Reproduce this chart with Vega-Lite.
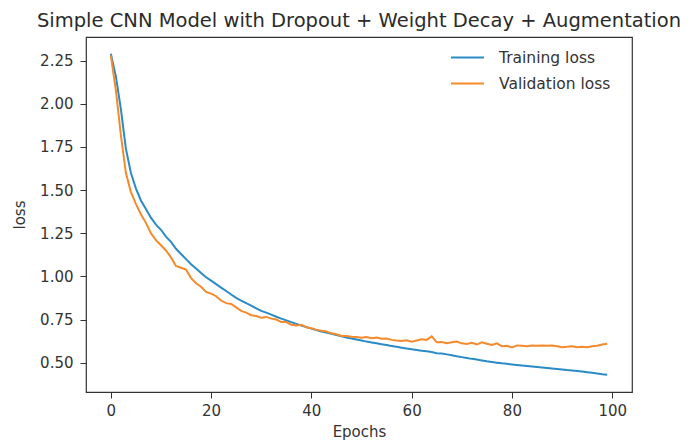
{
  "$schema": "https://vega.github.io/schema/vega-lite/v6.json",
  "autosize": "none",
  "width": 546,
  "height": 355,
  "padding": {"left": 86, "top": 37, "right": 65, "bottom": 54},
  "background": "white",
  "title": {
    "text": "Simple CNN Model with Dropout + Weight Decay + Augmentation",
    "font": "DejaVu Sans",
    "fontSize": 19.5,
    "fontWeight": "normal",
    "color": "#2b2b2b",
    "anchor": "middle",
    "offset": 6
  },
  "config": {
    "view": {"stroke": "#333333", "strokeWidth": 1.2},
    "axis": {
      "labelFont": "DejaVu Sans",
      "titleFont": "DejaVu Sans",
      "labelFontSize": 15,
      "titleFontSize": 15,
      "titleFontWeight": "normal",
      "labelColor": "#333333",
      "titleColor": "#333333",
      "tickColor": "#333333",
      "tickSize": 6,
      "domain": false,
      "grid": false
    },
    "legend": {
      "labelFont": "DejaVu Sans",
      "labelFontSize": 15.5,
      "labelColor": "#333333"
    }
  },
  "data": {
    "values": [
      {"epoch":0,"Training loss":2.29,"Validation loss":2.28},
      {"epoch":1,"Training loss":2.16,"Validation loss":2.08},
      {"epoch":2,"Training loss":1.97,"Validation loss":1.82},
      {"epoch":3,"Training loss":1.74,"Validation loss":1.60},
      {"epoch":4,"Training loss":1.60,"Validation loss":1.49},
      {"epoch":5,"Training loss":1.51,"Validation loss":1.42},
      {"epoch":6,"Training loss":1.44,"Validation loss":1.36},
      {"epoch":7,"Training loss":1.39,"Validation loss":1.31},
      {"epoch":8,"Training loss":1.34,"Validation loss":1.25},
      {"epoch":9,"Training loss":1.30,"Validation loss":1.21},
      {"epoch":10,"Training loss":1.27,"Validation loss":1.18},
      {"epoch":11,"Training loss":1.23,"Validation loss":1.15},
      {"epoch":12,"Training loss":1.20,"Validation loss":1.11},
      {"epoch":13,"Training loss":1.16,"Validation loss":1.06},
      {"epoch":14,"Training loss":1.13,"Validation loss":1.05},
      {"epoch":15,"Training loss":1.10,"Validation loss":1.04},
      {"epoch":16,"Training loss":1.07,"Validation loss":0.99},
      {"epoch":17,"Training loss":1.045,"Validation loss":0.96},
      {"epoch":18,"Training loss":1.02,"Validation loss":0.94},
      {"epoch":19,"Training loss":0.995,"Validation loss":0.91},
      {"epoch":20,"Training loss":0.975,"Validation loss":0.90},
      {"epoch":21,"Training loss":0.955,"Validation loss":0.885},
      {"epoch":22,"Training loss":0.935,"Validation loss":0.86},
      {"epoch":23,"Training loss":0.915,"Validation loss":0.845},
      {"epoch":24,"Training loss":0.895,"Validation loss":0.84},
      {"epoch":25,"Training loss":0.875,"Validation loss":0.82},
      {"epoch":26,"Training loss":0.86,"Validation loss":0.80},
      {"epoch":27,"Training loss":0.845,"Validation loss":0.79},
      {"epoch":28,"Training loss":0.83,"Validation loss":0.775},
      {"epoch":29,"Training loss":0.815,"Validation loss":0.77},
      {"epoch":30,"Training loss":0.80,"Validation loss":0.76},
      {"epoch":31,"Training loss":0.79,"Validation loss":0.765},
      {"epoch":32,"Training loss":0.778,"Validation loss":0.755},
      {"epoch":33,"Training loss":0.766,"Validation loss":0.75},
      {"epoch":34,"Training loss":0.755,"Validation loss":0.735},
      {"epoch":35,"Training loss":0.745,"Validation loss":0.735},
      {"epoch":36,"Training loss":0.735,"Validation loss":0.72},
      {"epoch":37,"Training loss":0.725,"Validation loss":0.715},
      {"epoch":38,"Training loss":0.715,"Validation loss":0.72},
      {"epoch":39,"Training loss":0.706,"Validation loss":0.705},
      {"epoch":40,"Training loss":0.697,"Validation loss":0.70},
      {"epoch":41,"Training loss":0.689,"Validation loss":0.69},
      {"epoch":42,"Training loss":0.681,"Validation loss":0.685},
      {"epoch":43,"Training loss":0.674,"Validation loss":0.68},
      {"epoch":44,"Training loss":0.667,"Validation loss":0.67},
      {"epoch":45,"Training loss":0.66,"Validation loss":0.665},
      {"epoch":46,"Training loss":0.653,"Validation loss":0.655},
      {"epoch":47,"Training loss":0.646,"Validation loss":0.655},
      {"epoch":48,"Training loss":0.64,"Validation loss":0.65},
      {"epoch":49,"Training loss":0.634,"Validation loss":0.648},
      {"epoch":50,"Training loss":0.628,"Validation loss":0.645},
      {"epoch":51,"Training loss":0.622,"Validation loss":0.648},
      {"epoch":52,"Training loss":0.617,"Validation loss":0.642},
      {"epoch":53,"Training loss":0.612,"Validation loss":0.645},
      {"epoch":54,"Training loss":0.607,"Validation loss":0.638},
      {"epoch":55,"Training loss":0.602,"Validation loss":0.64},
      {"epoch":56,"Training loss":0.597,"Validation loss":0.632},
      {"epoch":57,"Training loss":0.592,"Validation loss":0.628},
      {"epoch":58,"Training loss":0.587,"Validation loss":0.625},
      {"epoch":59,"Training loss":0.582,"Validation loss":0.63},
      {"epoch":60,"Training loss":0.578,"Validation loss":0.622},
      {"epoch":61,"Training loss":0.574,"Validation loss":0.628},
      {"epoch":62,"Training loss":0.569,"Validation loss":0.635},
      {"epoch":63,"Training loss":0.566,"Validation loss":0.632},
      {"epoch":64,"Training loss":0.562,"Validation loss":0.652},
      {"epoch":65,"Training loss":0.555,"Validation loss":0.618},
      {"epoch":66,"Training loss":0.553,"Validation loss":0.62},
      {"epoch":67,"Training loss":0.548,"Validation loss":0.612},
      {"epoch":68,"Training loss":0.543,"Validation loss":0.618},
      {"epoch":69,"Training loss":0.537,"Validation loss":0.622},
      {"epoch":70,"Training loss":0.532,"Validation loss":0.612},
      {"epoch":71,"Training loss":0.527,"Validation loss":0.608},
      {"epoch":72,"Training loss":0.522,"Validation loss":0.615},
      {"epoch":73,"Training loss":0.518,"Validation loss":0.605},
      {"epoch":74,"Training loss":0.513,"Validation loss":0.618},
      {"epoch":75,"Training loss":0.508,"Validation loss":0.61},
      {"epoch":76,"Training loss":0.504,"Validation loss":0.602},
      {"epoch":77,"Training loss":0.50,"Validation loss":0.612},
      {"epoch":78,"Training loss":0.496,"Validation loss":0.595},
      {"epoch":79,"Training loss":0.493,"Validation loss":0.598},
      {"epoch":80,"Training loss":0.49,"Validation loss":0.588},
      {"epoch":81,"Training loss":0.487,"Validation loss":0.60},
      {"epoch":82,"Training loss":0.484,"Validation loss":0.598},
      {"epoch":83,"Training loss":0.481,"Validation loss":0.595},
      {"epoch":84,"Training loss":0.478,"Validation loss":0.60},
      {"epoch":85,"Training loss":0.475,"Validation loss":0.598},
      {"epoch":86,"Training loss":0.472,"Validation loss":0.60},
      {"epoch":87,"Training loss":0.469,"Validation loss":0.598},
      {"epoch":88,"Training loss":0.466,"Validation loss":0.60},
      {"epoch":89,"Training loss":0.463,"Validation loss":0.595},
      {"epoch":90,"Training loss":0.46,"Validation loss":0.59},
      {"epoch":91,"Training loss":0.457,"Validation loss":0.592},
      {"epoch":92,"Training loss":0.455,"Validation loss":0.595},
      {"epoch":93,"Training loss":0.452,"Validation loss":0.59},
      {"epoch":94,"Training loss":0.449,"Validation loss":0.592},
      {"epoch":95,"Training loss":0.445,"Validation loss":0.59},
      {"epoch":96,"Training loss":0.441,"Validation loss":0.595},
      {"epoch":97,"Training loss":0.437,"Validation loss":0.598},
      {"epoch":98,"Training loss":0.433,"Validation loss":0.605},
      {"epoch":99,"Training loss":0.43,"Validation loss":0.61}
    ]
  },
  "transform": [
    {"fold": ["Training loss", "Validation loss"], "as": ["series", "loss"]}
  ],
  "mark": {"type": "line", "strokeWidth": 2, "interpolate": "linear"},
  "encoding": {
    "x": {
      "field": "epoch",
      "type": "quantitative",
      "title": "Epochs",
      "scale": {"domain": [-4.95, 103.95], "nice": false, "zero": false},
      "axis": {"values": [0, 20, 40, 60, 80, 100], "labelPadding": 5, "titlePadding": 6}
    },
    "y": {
      "field": "loss",
      "type": "quantitative",
      "title": "loss",
      "scale": {"domain": [0.33, 2.387], "nice": false, "zero": false},
      "axis": {"values": [0.5, 0.75, 1.0, 1.25, 1.5, 1.75, 2.0, 2.25], "format": ".2f", "labelPadding": 7, "titlePadding": 12}
    },
    "color": {
      "field": "series",
      "type": "nominal",
      "scale": {"domain": ["Training loss", "Validation loss"], "range": ["#2a8bc6", "#f58a2c"]},
      "legend": {
        "title": null,
        "orient": "none",
        "legendX": 364,
        "legendY": 3,
        "symbolType": "stroke",
        "symbolSize": 1089,
        "symbolStrokeWidth": 2,
        "labelOffset": 14,
        "rowPadding": -10
      }
    }
  }
}
